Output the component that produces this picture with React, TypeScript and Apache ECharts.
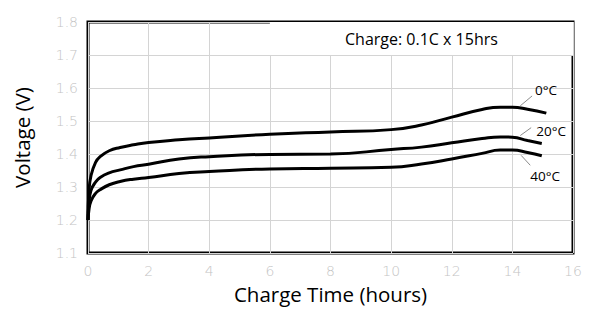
import React, { useEffect, useRef } from "react";
import * as echarts from "echarts";

const hours = [0, 0.03, 0.1, 0.25, 0.4, 0.7, 1.06, 1.5, 2, 3, 4, 6, 8, 10, 11, 12, 13, 13.6, 14, 14.5];
const endHours = [15.12, 14.97, 14.97];
const v0C = [1.2, 1.285, 1.335, 1.375, 1.392, 1.41, 1.42, 1.428, 1.435, 1.443, 1.449, 1.46, 1.467, 1.474, 1.488, 1.512, 1.535, 1.542, 1.542, 1.536, 1.524];
const v20C = [1.2, 1.25, 1.29, 1.315, 1.329, 1.343, 1.352, 1.362, 1.369, 1.385, 1.392, 1.399, 1.4, 1.414, 1.421, 1.434, 1.447, 1.452, 1.451, 1.441, 1.432];
const v40C = [1.2, 1.23, 1.258, 1.281, 1.292, 1.307, 1.317, 1.324, 1.329, 1.341, 1.347, 1.355, 1.357, 1.36, 1.37, 1.385, 1.402, 1.412, 1.412, 1.405, 1.395];
const seriesNames = ["0°C", "20°C", "40°C"];
const labelPos = [[15.11, 1.594], [15.28, 1.471], [15.08, 1.333]];
const leaders = [
  [[14.26, 1.546], [14.65, 1.576]],
  [[14.26, 1.456], [14.62, 1.48]],
  [[14.29, 1.396], [14.59, 1.366]],
];
const xTicks = [0, 2, 4, 6, 8, 10, 12, 14, 16];
const yTicks = [1.1, 1.2, 1.3, 1.4, 1.5, 1.6, 1.7, 1.8];
const noteText = "Charge: 0.1C x 15hrs";
const noteBox = [[6, 1.7], [16, 1.8]];

const FONT = "'Open Sans', 'Noto Sans', sans-serif";

export default function App() {
  const ref = useRef<HTMLDivElement>(null);
  useEffect(() => {
    if (!ref.current) return;
    const chart = echarts.init(ref.current, null, { renderer: "svg" });
    const all = [v0C, v20C, v40C];
    const series: any[] = all.map((vals, i) => {
      const xs = hours.concat([endHours[i]]);
      return {
        name: seriesNames[i],
        type: "line",
        data: xs.map((h, j) => [h, vals[j]]),
        smooth: 0.5,
        symbol: "none",
        lineStyle: { color: "#000", width: 3 },
        z: 3,
        markLine: {
          silent: true,
          symbol: "none",
          animation: false,
          label: { show: false },
          lineStyle: { color: "#8c8c8c", width: 1, type: "solid" },
          data: [[{ coord: leaders[i][0] }, { coord: leaders[i][1] }]],
        },
        markPoint: {
          silent: true,
          symbol: "rect",
          symbolSize: 0,
          animation: false,
          label: {
            show: true,
            formatter: seriesNames[i],
            color: "#000",
            fontFamily: FONT,
            fontSize: 13.5,
            position: "inside",
          },
          data: [{ coord: labelPos[i] }],
        },
      };
    });
    series[0].markArea = {
      silent: true,
      animation: false,
      itemStyle: { color: "#fff" },
      label: {
        show: true,
        position: "inside",
        formatter: noteText,
        color: "#000",
        fontFamily: FONT,
        fontSize: 16,
      },
      data: [[{ coord: noteBox[0] }, { coord: noteBox[1] }]],
    };
    chart.setOption({
      animation: false,
      grid: {
        left: 88,
        top: 22,
        right: 25,
        bottom: 53,
        show: true,
        borderColor: "#000",
        borderWidth: 3,
      },
      xAxis: {
        type: "value",
        min: 0,
        max: 16,
        interval: 2,
        name: "Charge Time (hours)",
        nameLocation: "middle",
        nameGap: 29,
        nameTextStyle: { color: "#000", fontSize: 20.5, fontFamily: FONT },
        axisLine: { show: false },
        axisTick: { show: false },
        axisLabel: {
          color: "#c4c4c4",
          fontSize: 14,
          fontFamily: "'DejaVu Sans', sans-serif",
          fontWeight: 200,
          margin: 11,
          formatter: (v: number) => (xTicks.includes(v) ? String(v) : ""),
        },
        splitLine: { show: true, lineStyle: { color: "#d4d4d4", width: 1 } },
      },
      yAxis: {
        type: "value",
        min: 1.1,
        max: 1.8,
        interval: 0.1,
        name: "Voltage (V)",
        nameLocation: "middle",
        nameGap: 56,
        nameTextStyle: { color: "#000", fontSize: 20.5, fontFamily: FONT },
        axisLine: { show: false },
        axisTick: { show: false },
        axisLabel: {
          color: "#c4c4c4",
          fontSize: 14,
          fontFamily: "'DejaVu Sans', sans-serif",
          fontWeight: 200,
          margin: 10,
          formatter: (v: number) => {
            const t = yTicks.find((y) => Math.abs(y - v) < 1e-6);
            return t !== undefined ? t.toFixed(1) : "";
          },
        },
        splitLine: { show: true, lineStyle: { color: "#d4d4d4", width: 1 } },
      },
      series,
    });
    return () => chart.dispose();
  }, []);
  return <div ref={ref} style={{ width: 598, height: 309, position: "absolute", left: 0, top: 0 }} />;
}
